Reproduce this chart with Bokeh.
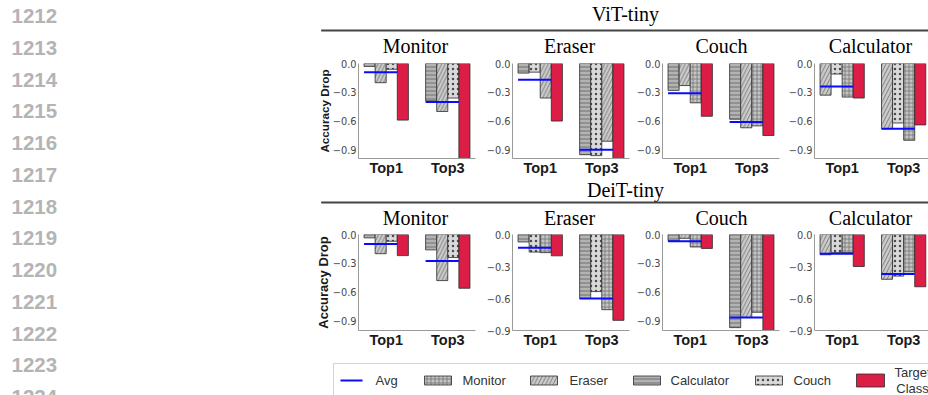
from bokeh.plotting import figure
from bokeh.layouts import row, column
from bokeh.models import Range1d, FixedTicker, CustomJSTickFormatter, ColumnDataSource
from bokeh.core.properties import value
from bokeh.embed import file_html
from bokeh.resources import INLINE

# ---------------- data ----------------
line_numbers = [str(n) for n in range(1212, 1225)]
model_names = ["ViT-tiny", "DeiT-tiny"]
target_names = ["Monitor", "Eraser", "Couch", "Calculator"]
group_names = ["Top1", "Top3"]
legend_names = ["Avg", "Monitor", "Eraser", "Calculator", "Couch"]
legend_target = ["Target", "Class"]

vit_classes = [["Calculator", "Eraser", "Couch"], ["Calculator", "Couch", "Eraser"],
               ["Calculator", "Eraser", "Monitor"], ["Eraser", "Couch", "Monitor"]]
deit_classes = [["Calculator", "Eraser", "Couch"], ["Calculator", "Couch", "Monitor"],
                ["Calculator", "Eraser", "Monitor"], ["Eraser", "Couch", "Monitor"]]

vit_top1_others = [[-0.03, -0.20, -0.06], [-0.10, -0.09, -0.36], [-0.28, -0.23, -0.41], [-0.33, -0.11, -0.35]]
vit_top1_target = [-0.59, -0.60, -0.55, -0.36]
vit_top1_avg = [-0.09, -0.17, -0.31, -0.24]
vit_top3_others = [[-0.39, -0.50, -0.36], [-0.95, -0.96, -0.81], [-0.58, -0.67, -0.65], [-0.68, -0.62, -0.80]]
vit_top3_target = [-1.0, -1.0, -0.75, -0.64]
vit_top3_avg = [-0.40, -0.90, -0.61, -0.68]

deit_top1_others = [[-0.035, -0.20, -0.07], [-0.07, -0.165, -0.17], [-0.065, -0.04, -0.13], [-0.19, -0.17, -0.17]]
deit_top1_target = [-0.22, -0.20, -0.145, -0.30]
deit_top1_avg = [-0.10, -0.125, -0.07, -0.18]
deit_top3_others = [[-0.16, -0.48, -0.24], [-0.60, -0.535, -0.705], [-0.97, -0.865, -0.81], [-0.42, -0.39, -0.35]]
deit_top3_target = [-0.56, -0.805, -1.0, -0.49]
deit_top3_avg = [-0.275, -0.60, -0.865, -0.37]

vit_ylim = [-0.99, -0.99, -0.99, -0.99]
deit_ylim = [-1.0, -0.9, -1.0, -0.9]
y_ticks = [0, -0.3, -0.6, -0.9]

# ---------------- styles ----------------
STY = {
    "Calculator": dict(fill="#b3b3b3", hatch="-", hc="#6f6f6f", hs=4.0, hw=1.0),
    "Eraser": dict(fill="#cbcbcb", hatch="/", hc="#6a6a6a", hs=7.5, hw=0.8),
    "Couch": dict(fill="#d9d9d9", hatch=".", hc="#4a4a4a", hs=5.0, hw=1.2),
    "Monitor": dict(fill="#c4c4c4", hatch="+", hc="#747474", hs=4.0, hw=0.8),
}
RED = "#dc1e46"
BW = 0.18
LEFT_W = 300
COL_W = 628
SERIF = value("Liberation Serif")
SANS = value("Liberation Sans")


def blank_fig(w, h, xr, yr):
    p = figure(width=w, height=h, x_range=Range1d(*xr), y_range=Range1d(*yr),
               output_backend="svg", toolbar_location=None, tools="", title=None,
               x_axis_location=None, y_axis_location=None, min_border=0)
    p.grid.visible = False
    p.outline_line_color = None
    p.background_fill_color = "white"
    p.border_fill_color = "white"
    return p


def header(model, y0, y1, y_title, rule_y, y_sub):
    p = blank_fig(COL_W, y1 - y0, (300, 928), (y1, y0))
    p.text(x=[625], y=[y_title], text=[model], text_font=SERIF, text_font_size="20px",
           text_align="center", text_baseline="middle", text_color="black")
    p.segment(x0=[320.7], x1=[935], y0=[rule_y], y1=[rule_y], line_color="#444444", line_width=2)
    p.text(x=[415, 569, 721, 870], y=[y_sub] * 4, text=target_names, text_font=SERIF,
           text_font_size="20px", text_align="center", text_baseline="middle", text_color="black")
    return p


FIG_SPEC = [  # width, left border, right border, x end
    (178, 58, 3, 1.45),
    (152, 34, 1, 1.45),
    (152, 32, 3, 1.45),
    (146, 32, 0, 1.404),
]


def subplot(i, classes, t1o, t1t, t1a, t3o, t3t, t3a, ymin, top_b, frame_h, ylab_size):
    w, lb, rb, xend = FIG_SPEC[i]
    h = top_b + frame_h + 22
    p = figure(width=w, height=h, x_range=Range1d(-0.45, xend), y_range=Range1d(ymin, 0),
               output_backend="svg", toolbar_location=None, tools="", title=None,
               min_border_left=lb, min_border_right=rb, min_border_top=top_b, min_border_bottom=22)
    p.grid.visible = False
    p.outline_line_color = None
    xs, bots, fills, hatches, hcs, hss, hws = [], [], [], [], [], [], []
    for g, (oth, tgt) in enumerate([(t1o, t1t), (t3o, t3t)]):
        for k in range(3):
            s = STY[classes[k]]
            xs.append(g + (k - 1.5) * BW); bots.append(oth[k]); fills.append(s["fill"])
            hatches.append(s["hatch"]); hcs.append(s["hc"]); hss.append(s["hs"]); hws.append(s["hw"])
        xs.append(g + 1.5 * BW); bots.append(tgt); fills.append(RED)
        hatches.append(" "); hcs.append(RED); hss.append(4.0); hws.append(1.0)
    src = ColumnDataSource(dict(x=xs, bottom=bots, fill=fills, hatch=hatches, hc=hcs, hs=hss, hw=hws))
    p.vbar(x="x", top=0, bottom="bottom", width=BW, source=src, fill_color="fill",
           hatch_pattern="hatch", hatch_color="hc", hatch_scale="hs", hatch_weight="hw",
           line_color="#2b2b2b", line_width=0.8)
    p.segment(x0=[g - 2 * BW for g in range(2)], x1=[g + 1 * BW for g in range(2)],
              y0=[t1a, t3a], y1=[t1a, t3a], line_color="#0a0aff", line_width=2)

    p.xaxis.ticker = FixedTicker(ticks=[0, 1])
    p.xaxis.major_label_overrides = {0: group_names[0], 1: group_names[1]}
    p.xaxis.major_label_text_font = "Liberation Sans"
    p.xaxis.major_label_text_font_style = "bold"
    p.xaxis.major_label_text_font_size = "14.5px"
    p.xaxis.major_label_text_color = "#1a1a1a"
    p.xaxis.major_label_standoff = 1
    p.xaxis.major_tick_out = 0
    p.xaxis.major_tick_in = 0
    p.xaxis.major_tick_line_color = None
    p.xaxis.minor_tick_line_color = None
    p.xaxis.axis_line_color = "#9a9a9a"

    p.yaxis.ticker = FixedTicker(ticks=y_ticks)
    p.yaxis.formatter = CustomJSTickFormatter(code="return tick.toFixed(1).replace('-', '\\u2212');")
    p.yaxis.major_label_text_font = "DejaVu Sans"
    p.yaxis.major_label_text_font_size = "9.8px"
    p.yaxis.major_label_text_color = "#474747"
    p.yaxis.major_label_standoff = 2
    p.yaxis.major_tick_out = 0
    p.yaxis.major_tick_in = 0
    p.yaxis.minor_tick_line_color = None
    p.yaxis.axis_line_color = "#9a9a9a"
    if i == 0:
        p.yaxis.axis_label = "Accuracy Drop"
        p.yaxis.axis_label_text_font = "Liberation Sans"
        p.yaxis.axis_label_text_font_style = "bold"
        p.yaxis.axis_label_text_font_size = ylab_size
        p.yaxis.axis_label_text_color = "#1a1a1a"
        p.yaxis.axis_label_standoff = -1
    return p


# line numbers column
ln = blank_fig(LEFT_W, 395, (0, 300), (395, 0))
ln.text(x=[11] * len(line_numbers), y=[15.8 + 31.73 * k for k in range(len(line_numbers))],
        text=line_numbers, text_font=SANS, text_font_style="bold", text_font_size="20.5px",
        text_color="#b4b4b4", text_align="left", text_baseline="middle")

h1 = header(model_names[0], 0, 56, 13.5, 30, 45)
row1 = row([subplot(i, vit_classes[i], vit_top1_others[i], vit_top1_target[i], vit_top1_avg[i],
                    vit_top3_others[i], vit_top3_target[i], vit_top3_avg[i], vit_ylim[i], 7, 95, "11.7px")
            for i in range(4)], spacing=0)
h2 = header(model_names[1], 180, 228, 189, 202, 217.5)
row2 = row([subplot(i, deit_classes[i], deit_top1_others[i], deit_top1_target[i], deit_top1_avg[i],
                    deit_top3_others[i], deit_top3_target[i], deit_top3_avg[i], deit_ylim[i], 6, 96, "13px")
            for i in range(4)], spacing=0)

# legend
lg = blank_fig(COL_W, 43, (300, 928), (395, 352))
lg.quad(left=[333], right=[940], top=[363], bottom=[402], fill_color="white", line_color="#d4d4d4", line_width=1)
LY = 380
lg.segment(x0=[340], x1=[362], y0=[LY], y1=[LY], line_color="#0a0aff", line_width=2)
sw_left = [424, 530, 633, 755]
sw_cls = ["Monitor", "Eraser", "Calculator", "Couch"]
lsrc = ColumnDataSource(dict(
    left=sw_left, right=[v + 27 for v in sw_left], top=[LY - 4.5] * 4, bottom=[LY + 4.5] * 4,
    fill=[STY[c]["fill"] for c in sw_cls], hatch=[STY[c]["hatch"] for c in sw_cls],
    hc=[STY[c]["hc"] for c in sw_cls], hs=[STY[c]["hs"] for c in sw_cls], hw=[STY[c]["hw"] for c in sw_cls]))
lg.quad(left="left", right="right", top="top", bottom="bottom", source=lsrc, fill_color="fill",
        hatch_pattern="hatch", hatch_color="hc", hatch_scale="hs", hatch_weight="hw",
        line_color="#2b2b2b", line_width=0.8)
lg.quad(left=[856], right=[884], top=[LY - 6.5], bottom=[LY + 6.5], fill_color=RED, line_color="#2b2b2b", line_width=0.8)
lg.text(x=[375, 462, 569, 670, 793], y=[LY] * 5, text=legend_names, text_font=SANS,
        text_font_size="13px", text_color="#333333", text_align="left", text_baseline="middle")
lg.text(x=[912, 912], y=[LY - 8, LY + 8], text=legend_target, text_font=SANS,
        text_font_size="13px", text_color="#333333", text_align="center", text_baseline="middle")

right_col = column([h1, row1, h2, row2, lg], spacing=0)
layout = row([ln, right_col], spacing=0)

open("out.html", "w").write(file_html(layout, INLINE))
